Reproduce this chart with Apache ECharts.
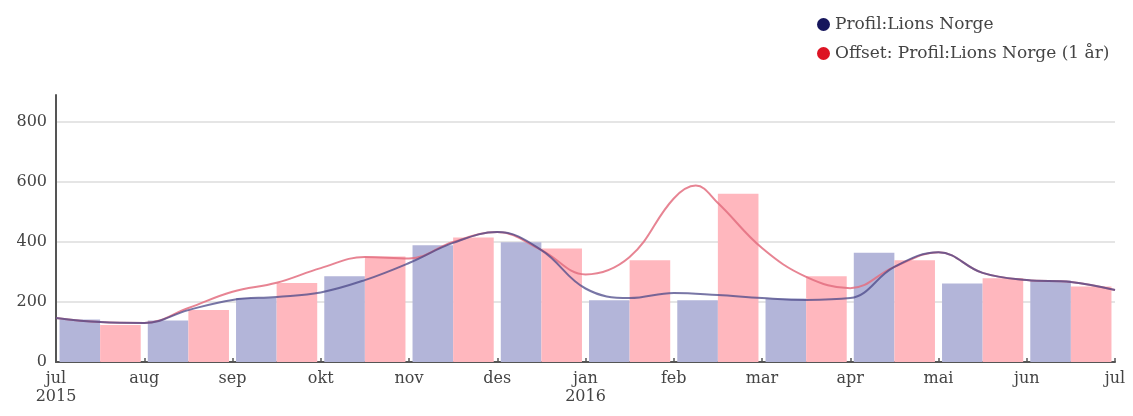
<!DOCTYPE html>
<html>
<head>
<meta charset="utf-8">
<script src="https://cdn.jsdelivr.net/npm/echarts@6/dist/echarts.min.js"></script>
<style>html,body{margin:0;padding:0;background:#fff}#c{width:1133px;height:416px}</style>
</head>
<body>
<div id="c"></div>
<script>
// Months (bar categories)
var months = ['jul','aug','sep','okt','nov','des','jan','feb','mar','apr','mai','jun'];
// Tick labels at month boundaries (0..12)
var tickLabels = ['jul\n2015','aug','sep','okt','nov','des','jan\n2016','feb','mar','apr','mai','jun','jul'];
// Bar values
var profilBars = [142, 138, 213, 286, 389, 399, 206, 206, 212, 364, 262, 272];
var offsetBars = [123, 173, 263, 352, 415, 378, 339, 561, 286, 339, 279, 252];
// Smoothed line values: [month position, value]
var profilLine = [[0,147],[0.5,133],[1,130],[1.5,173],[2,207],[2.5,217],[3,232],[3.5,273],[4,330],[4.5,397],[5,433],[5.5,373],[6,245],[6.5,213],[7,230],[7.5,223],[8,213],[8.5,207],[9,213],[9.5,317],[10,366],[10.5,297],[11,273],[11.5,267],[12,240]];
var offsetLine = [[0,147],[0.5,133],[1,130],[1.5,180],[2,234],[2.5,264],[3,313],[3.5,350],[4,345],[4.5,400],[5,433],[5.5,373],[6,292],[6.5,350],[7,545],[7.25,588],[7.5,530],[8,380],[8.5,284],[9,246],[9.5,317],[10,366],[10.5,297],[11,273],[11.5,267],[12,240]];

var NAME_A = 'Profil:Lions Norge';
var NAME_B = 'Offset: Profil:Lions Norge (1 år)';
var FONT = 'DejaVu Serif';

var chart = echarts.init(document.getElementById('c'));
chart.setOption({
  animation: false,
  backgroundColor: '#fff',
  legend: {
    orient: 'vertical',
    left: 812, top: 11,
    itemWidth: 13, itemHeight: 13, itemGap: 12,
    icon: 'circle',
    textStyle: { fontFamily: FONT, fontSize: 17, color: '#444' },
    data: [
      { name: NAME_A, itemStyle: { color: '#16165c' } },
      { name: NAME_B, itemStyle: { color: '#dd1424' } }
    ]
  },
  grid: { left: 56, right: 18, top: 95, bottom: 54 },
  xAxis: [
    { type: 'category', data: months, show: false, boundaryGap: true, position: 'bottom' },
    {
      type: 'value', min: 0, max: 12, interval: 1, position: 'bottom',
      axisLine: { show: true, lineStyle: { color: '#555', width: 2 } },
      axisTick: { show: true, inside: true, length: 4, lineStyle: { color: '#555', width: 1.5 } },
      splitLine: { show: false },
      axisLabel: {
        fontFamily: FONT, fontSize: 16, color: '#444', margin: 8, lineHeight: 18,
        formatter: function (v) { return tickLabels[Math.round(v)]; }
      }
    }
  ],
  yAxis: {
    type: 'value', min: 0, max: 890, interval: 200,
    axisLine: { show: true, lineStyle: { color: '#555', width: 2 } },
    axisTick: { show: false },
    axisLabel: { fontFamily: FONT, fontSize: 16, color: '#444', margin: 9, showMaxLabel: false },
    splitLine: { show: true, showMinLine: false, showMaxLine: false, lineStyle: { color: '#dcdcdc', width: 1.5 } }
  },
  series: [
    { name: NAME_A, type: 'bar', xAxisIndex: 0, data: profilBars, barGap: '0%', barCategoryGap: '8%',
      itemStyle: { color: '#b3b5d9' }, z: 1 },
    { name: NAME_B, type: 'bar', xAxisIndex: 0, data: offsetBars,
      itemStyle: { color: '#ffb7be' }, z: 1 },
    { name: NAME_B, type: 'line', xAxisIndex: 1, data: offsetLine, smooth: 0.4, showSymbol: false,
      lineStyle: { color: '#e36f80', width: 2, opacity: 0.85 }, z: 3 },
    { name: NAME_A, type: 'line', xAxisIndex: 1, data: profilLine, smooth: 0.4, showSymbol: false,
      lineStyle: { color: '#4b4888', width: 2, opacity: 0.75 }, z: 4 }
  ]
});
</script>
</body>
</html>
